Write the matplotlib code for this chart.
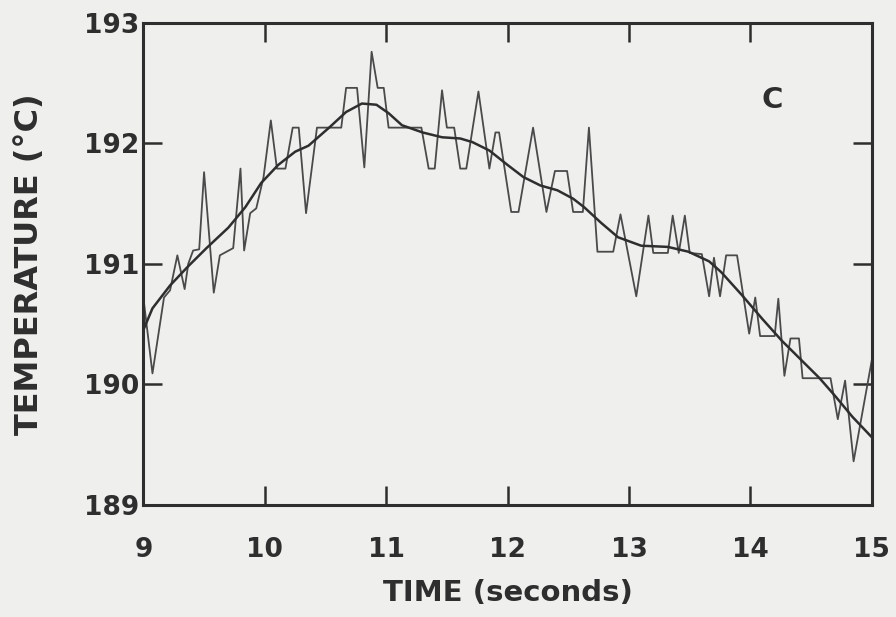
import numpy as np
import matplotlib.pyplot as plt

t_raw = [9.0, 9.075, 9.17, 9.22, 9.28, 9.34, 9.37, 9.41, 9.46, 9.50,
         9.58, 9.63, 9.74, 9.80, 9.83, 9.88, 9.93, 9.99, 10.05, 10.10,
         10.17, 10.23, 10.28, 10.34, 10.43, 10.63, 10.67, 10.76, 10.82, 10.88,
         10.93, 10.98, 11.02, 11.29, 11.35, 11.40, 11.46, 11.50, 11.56, 11.61,
         11.66, 11.76, 11.85, 11.90, 11.93, 12.03, 12.09, 12.21, 12.32, 12.39,
         12.49, 12.54, 12.62, 12.67, 12.74, 12.87, 12.93, 13.06, 13.16, 13.20,
         13.32, 13.36, 13.41, 13.46, 13.50, 13.60, 13.66, 13.70, 13.75, 13.80,
         13.89, 13.99, 14.04, 14.08, 14.20, 14.23, 14.28, 14.33, 14.40, 14.43,
         14.66, 14.72, 14.78, 14.85, 15.0]
temp_raw = [190.72, 190.09, 190.72, 190.78, 191.07, 190.79, 191.0, 191.11, 191.12, 191.76,
            190.76, 191.07, 191.13, 191.79, 191.11, 191.42, 191.46, 191.72, 192.19, 191.79,
            191.79, 192.13, 192.13, 191.42, 192.13, 192.13, 192.46, 192.46, 191.8, 192.76,
            192.46, 192.46, 192.13, 192.13, 191.79, 191.79, 192.44, 192.13, 192.13, 191.79,
            191.79, 192.43, 191.79, 192.09, 192.09, 191.43, 191.43, 192.13, 191.43, 191.77,
            191.77, 191.43, 191.43, 192.13, 191.1, 191.1, 191.41, 190.73, 191.4, 191.09,
            191.09, 191.4, 191.09, 191.4, 191.09, 191.08, 190.73, 191.05, 190.73, 191.07,
            191.07, 190.42, 190.72, 190.4, 190.4, 190.71, 190.07, 190.38, 190.38, 190.05,
            190.05, 189.71, 190.03, 189.36, 190.2]

# smoothed curve
t_fit = [9.0, 9.075, 9.22, 9.37, 9.52, 9.70, 9.84, 9.97, 10.11, 10.25,
         10.36, 10.53, 10.67, 10.80, 10.92, 11.02, 11.13, 11.30, 11.46, 11.61,
         11.71, 11.85, 12.0, 12.13, 12.27, 12.41, 12.54, 12.63, 12.77, 12.91,
         13.1, 13.32, 13.49, 13.66, 13.76, 13.93, 14.1, 14.26, 14.43, 14.57,
         14.70, 14.84, 15.0]
temp_fit = [190.45, 190.63, 190.82, 190.98, 191.13, 191.3, 191.47, 191.67, 191.82, 191.93,
            191.98, 192.13, 192.26, 192.33, 192.32, 192.25, 192.15, 192.09, 192.05, 192.04,
            192.01, 191.94, 191.82, 191.72, 191.65, 191.61, 191.54, 191.47, 191.34, 191.22,
            191.15, 191.14, 191.1, 191.02, 190.93, 190.74, 190.54, 190.36, 190.19, 190.05,
            189.9, 189.73, 189.56]

x_ticks = [9, 10, 11, 12, 13, 14, 15]
y_ticks = [189, 190, 191, 192, 193]

bg = '#efefed'
ink = '#2e2e2e'
plt.rcParams['font.family'] = ['DejaVu Sans']

fig = plt.figure(figsize=(8.96, 6.17), dpi=100, facecolor=bg)
ax = fig.add_axes([0.160, 0.182, 0.813, 0.781], facecolor=bg)

ax.plot(t_raw, temp_raw, color='#4a4a4a', lw=1.3)
ax.plot(t_fit, temp_fit, color=ink, lw=1.8)

ax.set_xlim(9, 15)
ax.set_ylim(189, 193)
ax.set_xticks(x_ticks)
ax.set_yticks(y_ticks)
ax.tick_params(direction='in', length=14, width=1.8, colors=ink, labelsize=19,
               top=True, right=True)
ax.tick_params(axis='x', pad=23)
ax.tick_params(axis='y', pad=3)
for lab in ax.get_xticklabels() + ax.get_yticklabels():
    lab.set_fontweight('bold')
for s in ax.spines.values():
    s.set_linewidth(2.2)
    s.set_color(ink)

ax.set_xlabel('TIME (seconds)', fontsize=21, fontweight='bold', color=ink, labelpad=12)
ax.set_ylabel('TEMPERATURE (°C)', fontsize=23, fontweight='bold', color=ink, labelpad=28)
ax.text(14.18, 192.36, 'C', fontsize=21, fontweight='bold', color=ink, ha='center', va='center')

fig.savefig('out.png', dpi=100, facecolor=bg)
